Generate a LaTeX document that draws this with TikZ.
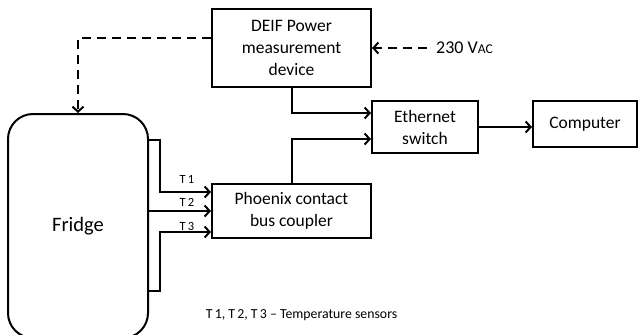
\documentclass[tikz,border=0pt]{standalone}
\usepackage{fontspec}
\setmainfont{Carlito}
\usetikzlibrary{arrows.meta}
\begin{document}
\begin{tikzpicture}[x=1pt,y=-1pt,
  box/.style={draw,line width=2pt,rectangle,align=center,inner sep=0pt,font=\fontsize{17.5}{22}\selectfont},
  conn/.style={line width=2pt,-{Straight Barb[length=5pt,width=11pt]}},
  dconn/.style={conn,dash pattern=on 9pt off 6pt},
  lbl/.style={font=\fontsize{12.5}{14}\selectfont,inner sep=0pt}]
\useasboundingbox (0,0) rectangle (638,335);
\clip (0,0) rectangle (638,335);
\node[box,minimum width=159pt,minimum height=78pt] (deif) at (291.5,48) {DEIF Power\\measurement\\device};
\node[box,minimum width=159pt,minimum height=54pt] (phx) at (291.5,211) {Phoenix contact\\bus coupler};
\node[box,minimum width=106pt,minimum height=52pt] (eth) at (425,127) {Ethernet\\switch};
\node[box,minimum width=104pt,minimum height=46pt] (comp) at (585,124) {Computer};
\node[box,rounded corners=25pt,minimum width=140pt,minimum height=224pt,font=\fontsize{20.5}{24}\selectfont] (fridge) at (78,226) {Fridge};
\node[anchor=west,inner sep=0pt,font=\fontsize{18}{20}\selectfont] (vac) at (436,48) {230 V{\fontsize{13.5}{14}\selectfont AC}};
\coordinate (vs) at (427,48);
\coordinate (k1) at (160,140);
\coordinate (k3) at (160,291);
\node[lbl] (t1) at (187,179) {T\,1};
\node[lbl] (t2) at (187,202) {T\,2};
\node[lbl] (t3) at (187,226) {T\,3};
\node[lbl,font=\fontsize{13.8}{15}\selectfont] (legend) at (301.5,315) {T\,1, T\,2, T\,3 -- Temperature sensors};
\draw[dconn] ([yshift=10pt]deif.west) -| (fridge.north);
\draw[dconn] (vs) -- (deif.east);
\draw[conn] (deif.south) |- ([yshift=14pt]eth.west);
\draw[conn] (phx.north) |- ([yshift=-12pt]eth.west);
\draw[conn] (eth.east) -- (eth.east -| comp.west);
\draw[conn] (fridge.east |- k1) -- (k1) |- ([yshift=19pt]phx.west);
\draw[conn] (fridge.east |- phx.west) -- (phx.west);
\draw[conn] (fridge.east |- k3) -- (k3) |- ([yshift=-21pt]phx.west);
\end{tikzpicture}
\end{document}
